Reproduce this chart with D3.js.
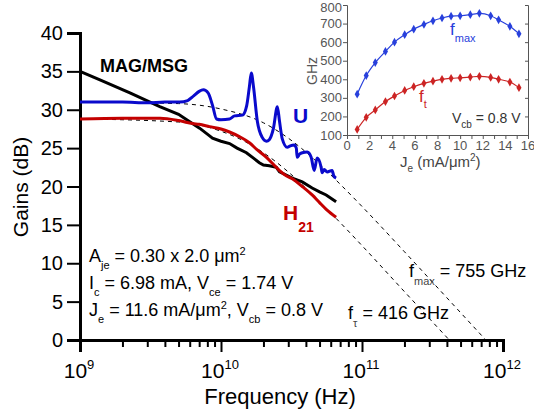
<!DOCTYPE html>
<html>
<head>
<meta charset="utf-8">
<script src="https://cdn.jsdelivr.net/npm/d3@7"></script>
<style>
  body { margin: 0; background: #fff; }
  svg { display: block; font-family: Arial, "Liberation Sans", sans-serif; }
</style>
</head>
<body>
<svg id="chart" width="534" height="414"></svg>
<script>
// main plot: frequency in GHz, gain in dB
var uFreq = [1, 2, 3, 4, 5.1, 5.8, 6.4, 7.0, 7.5, 8.1, 8.7, 9.3, 10.0, 11.5, 12.5, 14.2, 15.2, 15.9, 16.4, 17.0, 18.1,
             19.6, 21.0, 22.0, 23.5, 25.1, 26.0, 27.2, 29.5, 31.0, 33.1, 34.2, 34.7, 36.0, 37.7, 40.9, 43.6, 45.8,
             48.1, 51.3, 52.2, 54.0, 56.6, 61.4, 63.0, 65.5];
var uGain = [31.0, 31.0, 30.9, 31.0, 31.0, 31.2, 31.8, 32.4, 32.6, 32.2, 30.6, 28.8, 28.7, 28.8, 29.2, 29.3, 30.5, 33.0, 34.8, 33.0, 28.5,
             26.4, 25.9, 26.1, 27.5, 30.4, 28.5, 26.2, 25.1, 25.3, 25.4, 25.0, 23.8, 24.2, 24.4, 24.5, 23.8, 22.1,
             23.7, 22.5, 21.8, 22.2, 21.9, 22.1, 21.4, 21.1];

var h21Freq = [1, 2, 3.7, 5, 6.3, 7, 8.3, 10, 11.5, 13.5, 15.9, 18, 21, 23.5, 25.9, 29, 32, 37.7, 44.3, 50, 56, 65.5];
var h21Gain = [28.8, 28.9, 28.9, 28.6, 28.2, 28.1, 27.8, 27.5, 27.1, 26.5, 25.7, 24.8, 23.8, 22.9, 22.1, 21.4, 21.0, 20.0, 18.9, 17.9, 17.0, 16.0];

var magFreq = [1, 1.385, 2.26, 3.68, 5.0, 5.71, 7.05, 8.3, 8.7, 10, 11.5, 13, 15.15, 17, 18.7, 20, 22, 24.7, 26, 29, 32, 37.7, 44.3, 50, 55.7, 65.5];
var magGain = [35.0, 33.9, 32.2, 30.4, 29.4, 28.7, 27.6, 26.6, 26.3, 25.9, 25.6, 25.0, 24.4, 23.7, 23.1, 22.8, 22.7, 22.5, 21.9, 21.5, 21.1, 20.6, 19.8, 19.3, 18.9, 18.0];

// dashed -20 dB/dec fits
var uFitFreq = [1, 5, 10, 20, 30, 50, 70, 100, 200, 400, 755];
var uFitGain = [31.0, 30.8, 30.1, 28.3, 26.3, 22.9, 20.3, 17.4, 11.5, 5.5, 0];
var hFitFreq = [1, 5, 10, 15, 20, 30, 50, 70, 100, 200, 416];
var hFitGain = [28.8, 28.4, 27.2, 25.8, 24.4, 21.9, 18.0, 15.3, 12.3, 6.3, 0];

var gainTicks = [0, 5, 10, 15, 20, 25, 30, 35, 40];
var decadeExps = [9, 10, 11, 12];

// inset: fT / fmax versus emitter current density
var je = [0.9, 1.7, 2.5, 3.4, 4.2, 5.1, 5.9, 6.8, 7.6, 8.4, 9.2, 10.0, 10.9, 11.7, 12.7, 13.4, 14.4, 15.2];
var fmaxGHz = [320, 420, 490, 550, 600, 640, 670, 695, 715, 730, 740, 742, 748, 755, 742, 720, 685, 645];
var ftGHz = [130, 195, 235, 280, 310, 340, 360, 378, 390, 400, 405, 408, 412, 416, 410, 400, 385, 355];
var insetYTicks = [100, 200, 300, 400, 500, 600, 700, 800];
var insetXTicks = [0, 2, 4, 6, 8, 10, 12, 14, 16];

var svg = d3.select("#chart");

// text with sub/superscript pieces
function rich(g, x, y, parts, o) {
    var t = g.append("text")
        .attr("x", x).attr("y", y)
        .attr("font-size", o.size)
        .attr("fill", o.color || "#000")
        .attr("font-weight", o.weight || null)
        .attr("text-anchor", o.anchor || "start");
    var shift = 0;
    parts.forEach(function (p) {
        var kind = p[1] || "";
        var s = kind === "sub" ? (o.drop || o.size * 0.4) : kind === "sup" ? -(o.rise || o.size * 0.4) : 0;
        t.append("tspan")
            .attr("dy", s - shift)
            .attr("font-size", kind ? (o.small || o.size * 0.6) : o.size)
            .attr("fill", kind && o.subColor ? o.subColor : null)
            .text(p[0]);
        shift = s;
    });
    return t;
}

// ---------- main plot ----------
var x = d3.scaleLog().domain([1e9, 1e12]).range([80, 503]);
var y = d3.scaleLinear().domain([0, 40]).range([340, 33]);

var main = svg.append("g");

var minorTicks = [];
[1e9, 1e10, 1e11].forEach(function (d) {
    for (var k = 2; k <= 9; k++) minorTicks.push(d * k);
});

var xMinor = main.append("g")
    .attr("transform", "translate(0,340)")
    .call(d3.axisBottom(x).tickValues(minorTicks).tickSize(7).tickFormat(""));
var xMajor = main.append("g")
    .attr("transform", "translate(0,340)")
    .call(d3.axisBottom(x).tickValues(decadeExps.map(e => Math.pow(10, e))).tickSize(12).tickFormat(""));
var yAxis = main.append("g")
    .attr("transform", "translate(80,0)")
    .call(d3.axisLeft(y).tickValues(gainTicks).tickSize(13).tickFormat(""));

[xMinor, xMajor, yAxis].forEach(function (a) {
    a.select(".domain").attr("stroke", "#000").attr("stroke-width", 3);
    a.selectAll(".tick line").attr("stroke", "#000").attr("stroke-width", 2);
});
xMinor.select(".domain").remove();

gainTicks.forEach(function (v) {
    main.append("text")
        .attr("x", 63).attr("y", y(v) + 7)
        .attr("text-anchor", "end")
        .attr("font-size", 20)
        .text(v);
});
decadeExps.forEach(function (e) {
    rich(main, x(Math.pow(10, e)) - 1, 378, [["10"], [String(e), "sup"]],
         { size: 21, small: 13, rise: 9, anchor: "middle" });
});

main.append("text")
    .attr("x", 280).attr("y", 404)
    .attr("text-anchor", "middle")
    .attr("font-size", 22)
    .text("Frequency (Hz)");
main.append("text")
    .attr("transform", "translate(28,187) rotate(-90)")
    .attr("text-anchor", "middle")
    .attr("font-size", 21)
    .text("Gains (dB)");

var line = d3.line()
    .x(d => x(d[0] * 1e9))
    .y(d => y(d[1]));

function pairs(fs, gs) { return fs.map((f, i) => [f, gs[i]]); }

main.append("path")
    .datum(pairs(uFitFreq, uFitGain))
    .attr("d", line.curve(d3.curveMonotoneX))
    .attr("fill", "none").attr("stroke", "#000").attr("stroke-width", 1)
    .attr("stroke-dasharray", "4,4");
main.append("path")
    .datum(pairs(hFitFreq, hFitGain))
    .attr("d", line.curve(d3.curveMonotoneX))
    .attr("fill", "none").attr("stroke", "#000").attr("stroke-width", 1)
    .attr("stroke-dasharray", "4,4");

main.append("path")
    .datum(pairs(magFreq, magGain))
    .attr("d", line.curve(d3.curveLinear))
    .attr("fill", "none").attr("stroke", "#000").attr("stroke-width", 3);
main.append("path")
    .datum(pairs(h21Freq, h21Gain))
    .attr("d", line.curve(d3.curveMonotoneX))
    .attr("fill", "none").attr("stroke", "#c40000").attr("stroke-width", 3);
main.append("path")
    .datum(pairs(uFreq, uGain))
    .attr("d", line.curve(d3.curveMonotoneX))
    .attr("fill", "none").attr("stroke", "#0a0acc").attr("stroke-width", 3)
    .attr("stroke-linejoin", "round");

main.append("text")
    .attr("x", 100).attr("y", 72)
    .attr("font-size", 18).attr("font-weight", "bold")
    .text("MAG/MSG");
main.append("text")
    .attr("x", 293).attr("y", 123)
    .attr("font-size", 21).attr("font-weight", "bold").attr("fill", "#0a0acc")
    .text("U");
rich(main, 283, 220, [["H"], ["21", "sub"]],
     { size: 21, small: 14, drop: 12, weight: "bold", color: "#c40000" });

var ann = { size: 18, small: 11, drop: 7, rise: 7 };
rich(main, 89, 262, [["A"], ["je", "sub"], [" = 0.30 x 2.0 \u03bcm"], ["2", "sup"]], ann);
rich(main, 89, 289, [["I"], ["c", "sub"], [" = 6.98 mA, V"], ["ce", "sub"], [" = 1.74 V"]], ann);
rich(main, 89, 316, [["J"], ["e", "sub"], [" = 11.6 mA/\u03bcm"], ["2", "sup"], [", V"], ["cb", "sub"], [" = 0.8 V"]], ann);
rich(main, 409, 277, [["f"], ["max", "sub"], [" = 755 GHz"]], { size: 18, small: 11, drop: 8, subColor: "#444" });
rich(main, 348, 319, [["f"], ["\u03c4", "sub"], [" = 416 GHz"]], { size: 18, small: 11, drop: 8, subColor: "#444" });

// ---------- inset ----------
var ix = d3.scaleLinear().domain([0, 16]).range([347, 528]);
var iy = d3.scaleLinear().domain([100, 800]).range([135, 5]);
var inset = svg.append("g");
var grey = "#555";

var iyAxis = inset.append("g")
    .attr("transform", "translate(347,0)")
    .call(d3.axisLeft(iy).tickValues(insetYTicks).tickSize(4).tickFormat(""));
var iyRight = inset.append("g")
    .attr("transform", "translate(528,0)")
    .call(d3.axisRight(iy).tickValues(insetYTicks).tickSize(-3).tickFormat(""));
var ixAxis = inset.append("g")
    .attr("transform", "translate(0,135)")
    .call(d3.axisBottom(ix).ticks(16).tickSize(4).tickFormat(""));
[iyAxis, iyRight, ixAxis].forEach(function (a) {
    a.select(".domain").attr("stroke", grey).attr("stroke-width", 1);
    a.selectAll(".tick line").attr("stroke", grey);
});

insetYTicks.forEach(function (v) {
    inset.append("text")
        .attr("x", 342).attr("y", Math.max(iy(v) + 4.5, 12))
        .attr("text-anchor", "end").attr("font-size", 13).attr("fill", grey)
        .text(v);
});
insetXTicks.forEach(function (v) {
    inset.append("text")
        .attr("x", ix(v)).attr("y", 150)
        .attr("text-anchor", "middle").attr("font-size", 13).attr("fill", grey)
        .text(v);
});
inset.append("text")
    .attr("transform", "translate(317,71) rotate(-90)")
    .attr("text-anchor", "middle").attr("font-size", 14).attr("fill", grey)
    .text("GHz");
rich(inset, 400, 167, [["J"], ["e", "sub"], [" (mA/\u03bcm"], ["2", "sup"], [")"]],
     { size: 15, small: 10, drop: 5, rise: 6, color: "#444" });

var iline = d3.line().x(d => ix(d[0])).y(d => iy(d[1])).curve(d3.curveMonotoneX);
var diamond = d3.symbol().type(d3.symbolDiamond).size(22);

[[fmaxGHz, "#2840dc"], [ftGHz, "#cc2424"]].forEach(function (s) {
    var pts = je.map((j, i) => [j, s[0][i]]);
    inset.append("path")
        .datum(pts)
        .attr("d", iline)
        .attr("fill", "none").attr("stroke", s[1]).attr("stroke-width", 1.2);
    inset.selectAll(null)
        .data(pts)
        .enter()
        .append("path")
        .attr("d", diamond)
        .attr("transform", d => "translate(" + ix(d[0]) + "," + iy(d[1]) + ")")
        .attr("fill", s[1]);
});

rich(inset, 450, 35, [["f"], ["max", "sub"]], { size: 17, small: 11, drop: 7, color: "#2840dc" });
rich(inset, 419, 102, [["f"], ["t", "sub"]], { size: 17, small: 11, drop: 6, color: "#cc2424" });
rich(inset, 452, 123, [["V"], ["cb", "sub"], [" = 0.8 V"]], { size: 14, small: 10, drop: 5, color: "#333" });
</script>
</body>
</html>
